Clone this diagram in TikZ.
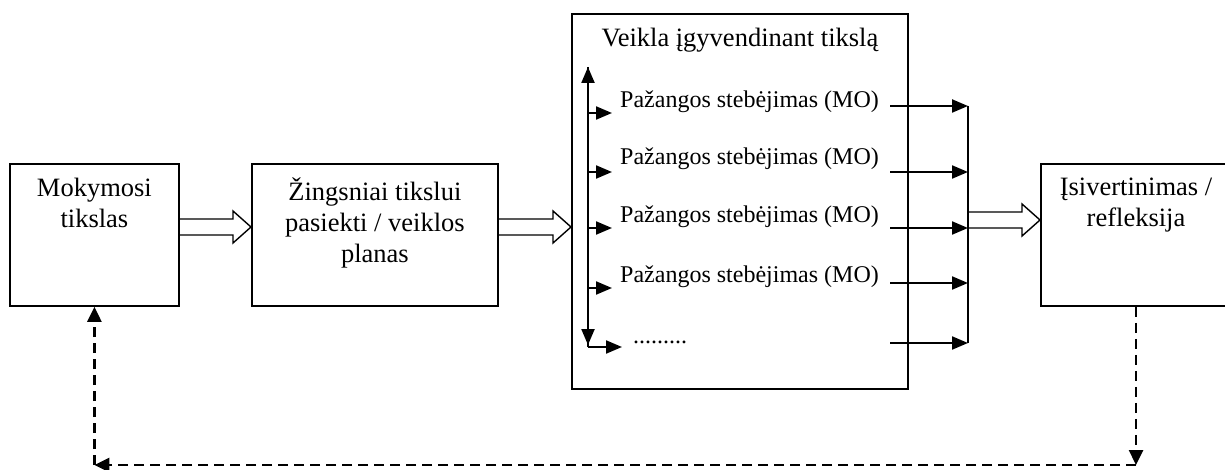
\documentclass[tikz,border=0pt]{standalone}
\usepackage{fontspec}
\setmainfont{Liberation Serif}
\usetikzlibrary{arrows.meta,calc}
\begin{document}
\begin{tikzpicture}[x=1pt,y=-1pt,
  box/.style={draw,line width=1.8pt,inner sep=0pt,anchor=north west},
  main/.style={font=\fontsize{26.5}{31}\selectfont,align=center,inner sep=0pt},
  item/.style={font=\fontsize{24}{28}\selectfont,inner sep=0pt},
  arr/.style={line width=2.2pt,-{Triangle[length=16pt,width=13pt]}},
  plain/.style={line width=2.2pt},
  hollow/.style={line width=1.4pt,to path={
    ($(\tikztostart)+(0,8pt)$) -- ($(\tikztotarget)+(-18pt,8pt)$) --
    ($(\tikztotarget)+(-18pt,16pt)$) -- (\tikztotarget) --
    ($(\tikztotarget)+(-18pt,-16pt)$) -- ($(\tikztotarget)+(-18pt,-8pt)$) --
    ($(\tikztostart)+(0,-8pt)$)}},
  dasharr/.style={line width=2.5pt,dash pattern=on 10pt off 6pt,-{Triangle[length=15pt,width=14pt]}}]
\useasboundingbox (0,0) rectangle (1225,470);
% boxes
\node[box,minimum width=169pt,minimum height=142pt] (b1) at (9,163) {};
\node[box,minimum width=246pt,minimum height=142pt] (b2) at (251,163) {};
\node[box,minimum width=336pt,minimum height=375pt] (b3) at (571,13) {};
\node[box,minimum width=215pt,minimum height=142pt] (b4) at (1040,163) {};
% helper coordinates
\coordinate (dx) at (1136,0);
\coordinate (vt) at (588,67);
\coordinate (vb) at (588,347);
\coordinate (ct) at (968,106);
\coordinate (cb) at (968,343);
\coordinate (r1) at (0,113);
\coordinate (r2) at (0,172);
\coordinate (r3) at (0,228);
\coordinate (r4) at (0,288);
\coordinate (q1) at (0,106);
\coordinate (q2) at (0,172);
\coordinate (q3) at (0,228);
\coordinate (q4) at (0,283);
\coordinate (q5) at (0,343);
\coordinate (h1) at (0,227);
\coordinate (h2) at (0,220);
\coordinate (dy) at (0,465);
% box texts
\node[main,anchor=north] (t1) at ($(b1.north)+(0,15)$) {Mokymosi\\tikslas};
\node[main,anchor=north] (t2) at ($(b2.north)+(0,15)$) {Žingsniai tikslui\\pasiekti / veiklos\\planas};
\node[main,anchor=north] (t4) at ($(b4.north -| dx)+(0,15)$) {Įsivertinimas /\\refleksija};
\node[main,anchor=base] (t3) at ($(b3.north)+(0,34)$) {Veikla įgyvendinant tikslą};
% items
\node[item,anchor=base west] (m1) at (620,108) {Pažangos stebėjimas (MO)};
\node[item,anchor=base west] (m2) at (620,165) {Pažangos stebėjimas (MO)};
\node[item,anchor=base west] (m3) at (620,223) {Pažangos stebėjimas (MO)};
\node[item,anchor=base west] (m4) at (620,282) {Pažangos stebėjimas (MO)};
\node[item,anchor=base west] (m5) at (633,343) {.........};
% vertical double arrow in box 3
\draw[arr] (vb) -- (vt);
\draw[arr] (vt) -- ($(vb)+(0,-2)$);
\draw[arr] (vb) -- ([xshift=-11pt]m5.west |- vb);
\foreach \m/\r in {m1/r1,m2/r2,m3/r3,m4/r4}
  \draw[arr] (vt |- \r) -- ([xshift=-8pt]\m.west |- \r);
% outgoing arrows and collector
\foreach \q in {q1,q2,q3,q4,q5}
  \draw[arr] ([xshift=11pt]m1.east |- \q) -- (ct |- \q);
\draw[plain] (ct) -- (cb);
% hollow arrows
\draw[hollow] (b1.east |- h1) to (b2.west |- h1);
\draw[hollow] (b2.east |- h1) to (b3.west |- h1);
\draw[hollow] (ct |- h2) to (b4.west |- h2);
% dashed feedback
\draw[dasharr] (b4.south -| dx) -- (dx |- dy);
\draw[dasharr] (dx |- dy) -- (b1.south |- dy);
\draw[dasharr] (b1.south |- dy) -- (b1.south);
\end{tikzpicture}
\end{document}
